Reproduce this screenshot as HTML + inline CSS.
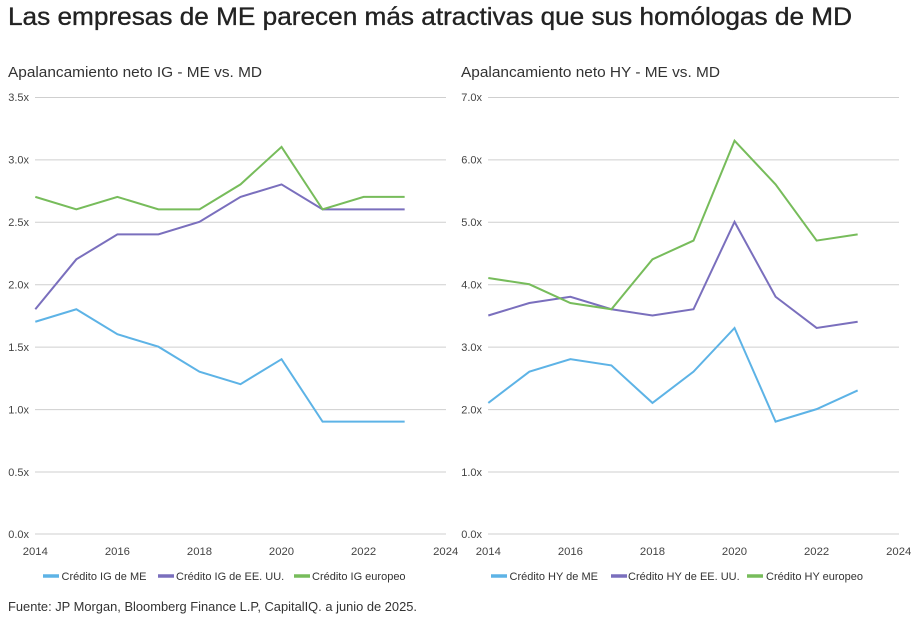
<!DOCTYPE html>
<html><head><meta charset="utf-8"><style>
html,body{margin:0;padding:0;background:#fff;}
svg{display:block;font-family:"Liberation Sans",sans-serif;}
</style></head><body>
<svg width="922" height="622" viewBox="0 0 922 622" xmlns="http://www.w3.org/2000/svg">
<text x="8" y="25" font-size="25" fill="#222" stroke="#222" stroke-width="0.35" textLength="844" lengthAdjust="spacingAndGlyphs">Las empresas de ME parecen más atractivas que sus homólogas de MD</text>
<text x="8" y="77" font-size="14.5" fill="#333" textLength="254" lengthAdjust="spacingAndGlyphs">Apalancamiento neto IG - ME vs. MD</text>
<text x="461" y="77" font-size="14.5" fill="#333" textLength="259" lengthAdjust="spacingAndGlyphs">Apalancamiento neto HY - ME vs. MD</text>

<g stroke="#cfcfcf" stroke-width="1">
<line x1="35" x2="446" y1="97.5" y2="97.5"/>
<line x1="35" x2="446" y1="159.9" y2="159.9"/>
<line x1="35" x2="446" y1="222.3" y2="222.3"/>
<line x1="35" x2="446" y1="284.7" y2="284.7"/>
<line x1="35" x2="446" y1="347.1" y2="347.1"/>
<line x1="35" x2="446" y1="409.6" y2="409.6"/>
<line x1="35" x2="446" y1="472" y2="472"/>
<line x1="35" x2="446" y1="534" y2="534"/>
<line x1="488" x2="899" y1="97.5" y2="97.5"/>
<line x1="488" x2="899" y1="159.9" y2="159.9"/>
<line x1="488" x2="899" y1="222.3" y2="222.3"/>
<line x1="488" x2="899" y1="284.7" y2="284.7"/>
<line x1="488" x2="899" y1="347.1" y2="347.1"/>
<line x1="488" x2="899" y1="409.6" y2="409.6"/>
<line x1="488" x2="899" y1="472" y2="472"/>
<line x1="488" x2="899" y1="534" y2="534"/>
</g>
<g font-size="11" fill="#444" text-anchor="end">
<text x="29" y="101">3.5x</text>
<text x="29" y="163.5">3.0x</text>
<text x="29" y="226">2.5x</text>
<text x="29" y="288.5">2.0x</text>
<text x="29" y="351">1.5x</text>
<text x="29" y="413.5">1.0x</text>
<text x="29" y="476">0.5x</text>
<text x="29" y="538">0.0x</text>
<text x="482" y="101">7.0x</text>
<text x="482" y="163.5">6.0x</text>
<text x="482" y="226">5.0x</text>
<text x="482" y="288.5">4.0x</text>
<text x="482" y="351">3.0x</text>
<text x="482" y="413.5">2.0x</text>
<text x="482" y="476">1.0x</text>
<text x="482" y="538">0.0x</text>
</g>
<g font-size="11.3" fill="#444" text-anchor="middle">
<text x="35.3" y="555">2014</text>
<text x="117.4" y="555">2016</text>
<text x="199.5" y="555">2018</text>
<text x="281.5" y="555">2020</text>
<text x="363.6" y="555">2022</text>
<text x="445.7" y="555">2024</text>
<text x="488.3" y="555">2014</text>
<text x="570.4" y="555">2016</text>
<text x="652.5" y="555">2018</text>
<text x="734.5" y="555">2020</text>
<text x="816.6" y="555">2022</text>
<text x="898.7" y="555">2024</text>
</g>

<g transform="translate(35.3,534) scale(41.04,-124.857)" fill="none" stroke-width="2">
<polyline vector-effect="non-scaling-stroke" stroke="#5db3e6" points="0,1.7 1,1.8 2,1.6 3,1.5 4,1.3 5,1.2 6,1.4 7,0.9 8,0.9 9,0.9"/>
<polyline vector-effect="non-scaling-stroke" stroke="#7a6fbd" points="0,1.8 1,2.2 2,2.4 3,2.4 4,2.5 5,2.7 6,2.8 7,2.6 8,2.6 9,2.6"/>
<polyline vector-effect="non-scaling-stroke" stroke="#77bc5b" points="0,2.7 1,2.6 2,2.7 3,2.6 4,2.6 5,2.8 6,3.1 7,2.6 8,2.7 9,2.7"/>
</g>
<g transform="translate(488.3,534) scale(41.04,-62.43)" fill="none" stroke-width="2">
<polyline vector-effect="non-scaling-stroke" stroke="#5db3e6" points="0,2.1 1,2.6 2,2.8 3,2.7 4,2.1 5,2.6 6,3.3 7,1.8 8,2.0 9,2.3"/>
<polyline vector-effect="non-scaling-stroke" stroke="#7a6fbd" points="0,3.5 1,3.7 2,3.8 3,3.6 4,3.5 5,3.6 6,5.0 7,3.8 8,3.3 9,3.4"/>
<polyline vector-effect="non-scaling-stroke" stroke="#77bc5b" points="0,4.1 1,4.0 2,3.7 3,3.6 4,4.4 5,4.7 6,6.3 7,5.6 8,4.7 9,4.8"/>
</g>

<g stroke-width="3.5">
<line x1="43" x2="59" y1="576" y2="576" stroke="#5db3e6"/>
<line x1="158" x2="174" y1="576" y2="576" stroke="#7a6fbd"/>
<line x1="294" x2="310" y1="576" y2="576" stroke="#77bc5b"/>
<line x1="491" x2="507" y1="576" y2="576" stroke="#5db3e6"/>
<line x1="611" x2="627" y1="576" y2="576" stroke="#7a6fbd"/>
<line x1="747" x2="763" y1="576" y2="576" stroke="#77bc5b"/>
</g>
<g font-size="11" fill="#333">
<text x="61.5" y="580">Crédito IG de ME</text>
<text x="176" y="580">Crédito IG de EE. UU.</text>
<text x="312" y="580">Crédito IG europeo</text>
<text x="509.5" y="580">Crédito HY de ME</text>
<text x="628" y="580">Crédito HY de EE. UU.</text>
<text x="766" y="580">Crédito HY europeo</text>
</g>

<text x="8" y="611" font-size="13" fill="#333" textLength="409" lengthAdjust="spacingAndGlyphs">Fuente: JP Morgan, Bloomberg Finance L.P, CapitalIQ. a junio de 2025.</text>
</svg>
</body></html>
